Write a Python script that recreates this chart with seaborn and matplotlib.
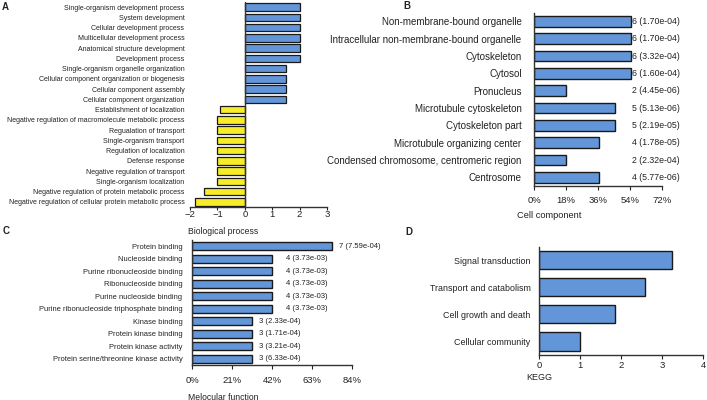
import numpy as np
import pandas as pd
import seaborn as sns
import matplotlib.pyplot as plt
from matplotlib.ticker import FuncFormatter

# A - biological process
bp_terms = ["Single-organism development process", "System development",
            "Cellular development process", "Multicellular development process",
            "Anatomical structure development", "Development process",
            "Single-organism organelle organization",
            "Cellular component organization or biogenesis",
            "Cellular component assembly", "Cellular component organization",
            "Establishment of localization",
            "Negative regulation of macromolecule metabolic process",
            "Regualation of transport", "Single-organism transport",
            "Regulation of localization", "Defense response",
            "Negative regulation of transport", "Single-organism localization",
            "Negative regulation of protein metabolic process",
            "Negative regulation of cellular protein metabolic process"]
bp_values = [2, 2, 2, 2, 2, 2, 1.5, 1.5, 1.5, 1.5,
             -0.9, -1, -1, -1, -1, -1, -1, -1, -1.5, -1.8]

# B - cell component
cc_terms = ["Non-membrane-bound organelle", "Intracellular non-membrane-bound organelle",
            "Cytoskeleton", "Cytosol", "Pronucleus", "Microtubule cytoskeleton",
            "Cytoskeleton part", "Microtubule organizing center",
            "Condensed chromosome, centromeric region", "Centrosome"]
cc_counts = [6, 6, 6, 6, 2, 5, 5, 4, 2, 4]
cc_pvals = ["1.70e-04", "1.70e-04", "3.32e-04", "1.60e-04", "4.45e-06",
            "5.13e-06", "2.19e-05", "1.78e-05", "2.32e-04", "5.77e-06"]
cc_pct = [54.5, 54.5, 54.5, 54.5, 18.2, 45.5, 45.5, 36.4, 18.2, 36.4]
cc_ticks = [0, 18, 36, 54, 72]

# C - molecular function
mf_terms = ["Protein binding", "Nucleoside binding", "Purine ribonucleoside binding",
            "Ribonucleoside binding", "Purine nucleoside binding",
            "Purine ribonucleoside triphosphate binding", "Kinase binding",
            "Protein kinase binding", "Protein kinase activity",
            "Protein serine/threonine kinase activity"]
mf_counts = [7, 4, 4, 4, 4, 4, 3, 3, 3, 3]
mf_pvals = ["7.59e-04", "3.73e-03", "3.73e-03", "3.73e-03", "3.73e-03",
            "3.73e-03", "2.33e-04", "1.71e-04", "3.21e-04", "6.33e-04"]
mf_pct = [73.7, 42.1, 42.1, 42.1, 42.1, 42.1, 31.6, 31.6, 31.6, 31.6]
mf_ticks = [0, 21, 42, 63, 84]

# D - KEGG
kegg_terms = ["Signal transduction", "Transport and catabolism",
              "Cell growth and death", "Cellular community"]
kegg_values = [3.24, 2.58, 1.86, 1.0]

blue = "#6396d8"
yellow = "#f6ec2a"
edge = "#1a1a1a"
txt = "#222222"

sns.set_theme(style="ticks")
plt.rcParams['font.family'] = ['Liberation Sans', 'DejaVu Sans']

W, H = 707, 400
fig = plt.figure(figsize=(W / 100, H / 100), dpi=100)


def px_axes(l, t, r, b):
    return fig.add_axes([l / W, 1 - b / H, (r - l) / W, (b - t) / H])


def style(ax, fs_y, fs_x, pad_y, pad_x, tick_len):
    ax.set_xlabel("")
    ax.set_ylabel("")
    ax.tick_params(axis="y", length=0, labelsize=fs_y, pad=pad_y, colors=txt)
    ax.tick_params(axis="x", length=tick_len, width=0.8, labelsize=fs_x,
                   pad=pad_x, colors=txt, direction="out")
    for s in ["top", "right"]:
        ax.spines[s].set_visible(False)
    for s in ["left", "bottom"]:
        ax.spines[s].set_color("#333333")
        ax.spines[s].set_linewidth(1.0)


# ---- A
axA = px_axes(190, 2, 327, 207)
bp_colors = [blue if v > 0 else yellow for v in bp_values]
sns.barplot(x=bp_values, y=bp_terms, hue=bp_terms, palette=bp_colors, legend=False,
            orient="h", width=0.73, saturation=1, edgecolor=edge, linewidth=0.9, ax=axA)
axA.set_xlim(-2, 3)
axA.set_ylim(len(bp_terms) - 0.5, -0.5)
axA.set_xticks([-2, -1, 0, 1, 2, 3])
style(axA, 5, 6.8, 4, 0.5, 2)
axA.spines["left"].set_visible(False)
axA.axvline(0, color="#333333", lw=1.0)
fig.text(188 / W, 1 - 231 / H, "Biological process", fontsize=6.2, color=txt,
         ha="left", va="center")

# ---- B
axB = px_axes(534, 12.7, 662, 186)
sns.barplot(x=cc_pct, y=cc_terms, color=blue, orient="h", width=0.61, saturation=1,
            edgecolor=edge, linewidth=1.0, ax=axB)
axB.set_xlim(0, 72)
axB.set_ylim(len(cc_terms) - 0.5, -0.5)
axB.set_xticks(cc_ticks)
axB.xaxis.set_major_formatter(FuncFormatter(lambda v, p: f"{v:.0f}%"))
style(axB, 7, 6.8, 9, 4.5, 3)
for i, (n, p) in enumerate(zip(cc_counts, cc_pvals)):
    axB.text(max(cc_pct) + 0.9, i, f"{n} ({p})", fontsize=6.3, color=txt,
             va="center", ha="left", clip_on=False)
fig.text(517 / W, 1 - 216 / H, "Cell component", fontsize=6.7, color=txt,
         ha="left", va="center")

# ---- C
axC = px_axes(192, 240, 352, 365)
sns.barplot(x=mf_pct, y=mf_terms, color=blue, orient="h", width=0.66, saturation=1,
            edgecolor=edge, linewidth=1.0, ax=axC)
axC.set_xlim(0, 84)
axC.set_ylim(len(mf_terms) - 0.5, -0.5)
axC.set_xticks(mf_ticks)
axC.xaxis.set_major_formatter(FuncFormatter(lambda v, p: f"{v:.0f}%"))
style(axC, 5.4, 6.8, 7, 5, 3)
for i, (v, n, p) in enumerate(zip(mf_pct, mf_counts, mf_pvals)):
    off = 14 if n == 4 else 7
    axC.annotate(f"{n} ({p})", (v, i), xytext=(off * 0.72, 0), textcoords="offset points",
                 fontsize=5.5, color=txt, va="center", ha="left", annotation_clip=False)
fig.text(188 / W, 1 - 397 / H, "Melocular function", fontsize=6.2, color=txt,
         ha="left", va="center")

# ---- D
axD = px_axes(539, 246.7, 703.3, 355)
sns.barplot(x=kegg_values, y=kegg_terms, color=blue, orient="h", width=0.67, saturation=1,
            edgecolor=edge, linewidth=1.0, ax=axD)
axD.set_xlim(0, 4)
axD.set_ylim(len(kegg_terms) - 0.5, -0.5)
axD.set_xticks([0, 1, 2, 3, 4])
style(axD, 6.4, 6.8, 6, 1, 3)
fig.text(526 / W, 1 - 377 / H, "KEGG", fontsize=6.5, color=txt,
         ha="left", va="center")

# panel letters
for x, y, s in [(2, 7, "A"), (403, 6, "B"), (3, 231, "C"), (405, 232, "D")]:
    fig.text(x / W, 1 - y / H, s, fontsize=7, fontweight="bold", color=txt,
             ha="left", va="center")

fig.savefig("out.png", dpi=100)
